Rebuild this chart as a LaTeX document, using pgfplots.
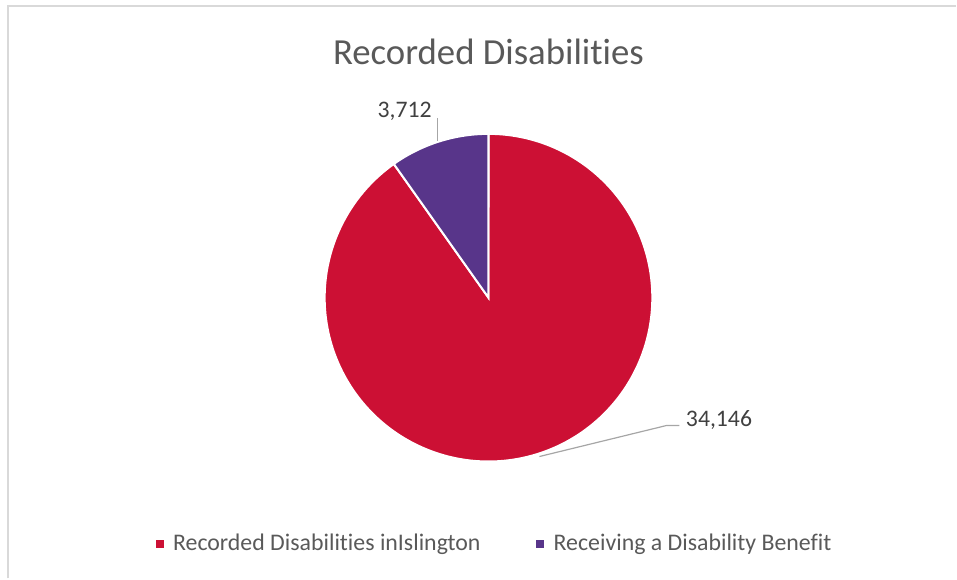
\documentclass[border=0pt]{standalone}
\usepackage{pgfplots}
\pgfplotsset{compat=1.18}
\usepackage{pgfplotstable}
\usepackage{fontspec}
\setmainfont{Carlito}[Ligatures=NoCommon]
\definecolor{piered}{RGB}{204,16,52}
\definecolor{piepurple}{RGB}{88,53,138}
\definecolor{titlegray}{RGB}{89,89,89}
\definecolor{labelgray}{RGB}{64,64,64}
\definecolor{linegray}{RGB}{166,166,166}
\definecolor{framegray}{RGB}{217,217,217}

\pgfplotstableread{
label value
Recorded 34146
Receiving 3712
}\piedata
\pgfplotstablegetelem{0}{value}\of\piedata \let\valA\pgfplotsretval
\pgfplotstablegetelem{1}{value}\of\piedata \let\valB\pgfplotsretval
\edef\angB{\fpeval{round(90+360*\valB/(\valA+\valB),3)}}

\begin{document}
\begin{tikzpicture}
\begin{axis}[scale only axis, width=717.75pt, height=434.25pt,
  xmin=0, xmax=957, ymin=0, ymax=579, y dir=reverse, hide axis, clip=false]
% full canvas for the bounding box
\addplot[draw=none] coordinates {(0,0) (957,579)};
% frame
\addplot[draw=framegray, line width=1.5pt] coordinates {(8,579) (8,6) (957,6)};
% slices
\addplot[fill=piered, draw=white, line width=1.5pt, domain=\angB:450, samples=200, variable=\t]
  ({489+164*cos(\t)},{298-164*sin(\t)}) -- (axis cs:489,298) -- cycle;
\addplot[fill=piepurple, draw=white, line width=1.5pt, domain=90:\angB, samples=60, variable=\t]
  ({489+164*cos(\t)},{298-164*sin(\t)}) -- (axis cs:489,298) -- cycle;
% leader lines
\draw[linegray, line width=0.9pt] (axis cs:540,457) -- (axis cs:667,426) -- (axis cs:680,426);
\draw[linegray, line width=0.9pt] (axis cs:438,118) -- (axis cs:438,141);
% data labels
\node[font=\fontsize{17.8}{20}\selectfont, text=labelgray, anchor=west] at (axis cs:682,420) {34,146};
\node[font=\fontsize{17.8}{20}\selectfont, text=labelgray] at (axis cs:405,111) {3,712};
% title
\node[font=\fontsize{27.6}{32}\selectfont, text=titlegray] at (axis cs:489,52) {Recorded Disabilities};
% legend
\fill[piered] (axis cs:156,541) rectangle (axis cs:164,549);
\node[font=\fontsize{17.9}{21}\selectfont, text=titlegray, anchor=west, inner sep=0pt] at (axis cs:173,545) {Recorded Disabilities inIslington};
\fill[piepurple] (axis cs:537,541) rectangle (axis cs:545,549);
\node[font=\fontsize{17.9}{21}\selectfont, text=titlegray, anchor=west, inner sep=0pt] at (axis cs:554,545) {Receiving a Disability Benefit};
\end{axis}
\end{tikzpicture}
\end{document}
